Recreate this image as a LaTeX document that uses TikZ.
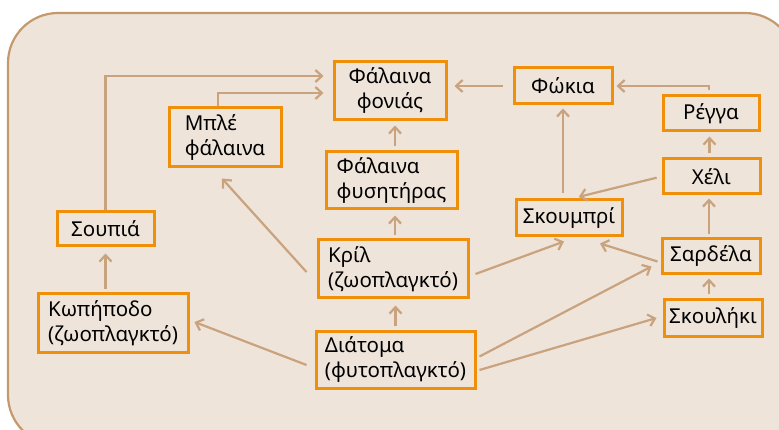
\documentclass[tikz,border=0pt]{standalone}
\usepackage{fontspec}
\setmainfont{Noto Sans}
\usetikzlibrary{calc,arrows.meta}
\definecolor{panelfill}{HTML}{EEE4DA}
\definecolor{panelline}{HTML}{C49A6C}
\definecolor{boxline}{HTML}{F0900A}
\definecolor{linkline}{HTML}{C9A27E}
\begin{document}
\begin{tikzpicture}[x=1pt,y=-1pt,
  species/.style={draw=boxline, line width=3pt, inner sep=0pt, align=left,
    font=\fontsize{20.5}{25}\selectfont, text=black},
  link/.style={draw=linkline, line width=2.2pt,
    -{Straight Barb[length=6.5pt,width=12pt,line width=2.2pt]}}]
\useasboundingbox (0,0) rectangle (779,430);
% panel behind the food web
\draw[fill=panelfill, draw=panelline, line width=2.2pt, rounded corners=50pt]
  (8,13) rectangle (795,445);
% organisms
\node[species, minimum width=112, minimum height=58, align=center] (fonias) at (390,91) {Φάλαινα\\φονιάς};
\node[species, minimum width=112, minimum height=59] (mple) at (225,137.5) {Μπλέ\\φάλαινα};
\node[species, minimum width=131, minimum height=57] (fysitiras) at (391.5,180.5) {Φάλαινα\\φυσητήρας};
\node[species, minimum width=98, minimum height=36] (fokia) at (563,86) {Φώκια};
\node[species, minimum width=96, minimum height=35] (regga) at (711,113.5) {Ρέγγα};
\node[species, minimum width=97, minimum height=35] (xeli) at (711.5,176.5) {Χέλι};
\node[species, minimum width=106, minimum height=36] (skoumpri) at (569,218) {Σκουμπρί};
\node[species, minimum width=97, minimum height=34] (soupia) at (105.5,229) {Σουπιά};
\node[species, minimum width=150, minimum height=58] (kopipodo) at (113,323) {Κωπήποδο\\(ζωοπλαγκτό)};
\node[species, minimum width=150, minimum height=58] (kril) at (393,269) {Κρίλ\\(ζωοπλαγκτό)};
\node[species, minimum width=159, minimum height=57] (diatoma) at (395.5,359.5) {Διάτομα\\(φυτοπλαγκτό)};
\node[species, minimum width=98, minimum height=35] (sardela) at (711,256.5) {Σαρδέλα};
\node[species, minimum width=98, minimum height=36] (skouliki) at (713,318) {Σκουλήκι};
% feeding links
\draw[link] (soupia.north) |- ($(fonias.west)+(-9,-15)$);
\draw[link] ([xshift=-7]mple.north) |- ($(fonias.west)+(-9,2)$);
\draw[link, shorten <=10pt, shorten >=7pt] (fokia.west) -- (fonias.east |- fokia.west);
\draw[link, shorten <=4pt, shorten >=3pt] ([xshift=-2]regga.north) |- (fokia.east);
\draw[link, shorten <=5pt, shorten >=3pt] (skoumpri.north -| fokia.south) -- (fokia.south);
\draw[link, shorten <=5pt, shorten >=7pt] (xeli.west) -- ([xshift=3]skoumpri.north);
\draw[link, shorten <=4pt, shorten >=4pt] ([xshift=-2]xeli.north) -- ([xshift=-2]xeli.north |- regga.south);
\draw[link, shorten <=3pt, shorten >=3pt] ([xshift=-2]sardela.north) -- ([xshift=-2]sardela.north |- xeli.south);
\draw[link, shorten <=4pt, shorten >=3pt] ([xshift=-4]skouliki.north) -- ([xshift=-4]skouliki.north |- sardela.south);
\draw[link] ($(sardela.west)+(-3,5)$) -- ($(skoumpri.south)+(31,6)$);
\draw[link] ($(kril.east)+(6,5)$) -- ($(skoumpri.south)+(-5,4)$);
\draw[link] ($(diatoma.east)+(3,-3)$) -- ($(sardela.west)+(-9,10)$);
\draw[link] ($(diatoma.east)+(3,10.5)$) -- ($(skouliki.west)+(-6,0)$);
\draw[link, shorten <=4pt, shorten >=6pt] (diatoma.north) -- (diatoma.north |- kril.south);
\draw[link, shorten <=3pt, shorten >=5pt] ([xshift=2]kril.north) -- ([xshift=2]kril.north |- fysitiras.south);
\draw[link, shorten <=4pt, shorten >=4pt] ([xshift=3.5]fysitiras.north) -- ([xshift=3.5]fysitiras.north |- fonias.south);
\draw[link] ($(kril.west)+(-10,3)$) -- ($(mple.south)+(-3,10)$);
\draw[link, shorten <=3pt, shorten >=6pt] (soupia.south |- kopipodo.north) -- (soupia.south);
\draw[link] ($(diatoma.west)+(-8,5.5)$) -- ($(kopipodo.east)+(5,-1)$);
\end{tikzpicture}
\end{document}
